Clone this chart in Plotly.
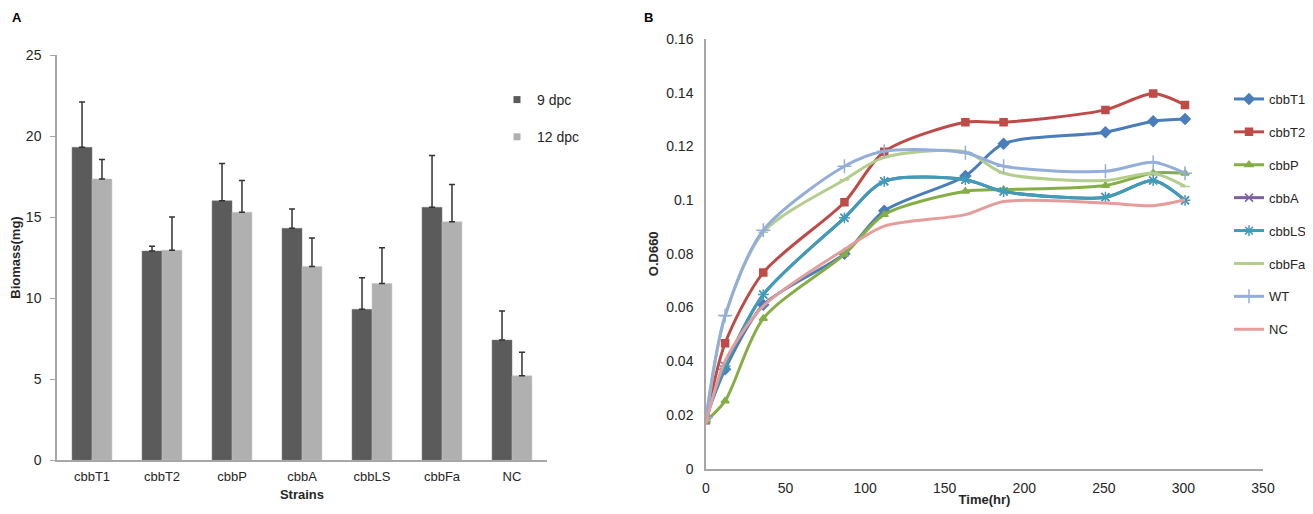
import plotly.graph_objects as go

# ---------- Panel A data ----------
strains = ["cbbT1", "cbbT2", "cbbP", "cbbA", "cbbLS", "cbbFa", "NC"]
biomass_9dpc = [19.3, 12.9, 16.0, 14.3, 9.3, 15.6, 7.4]
biomass_9dpc_err = [2.8, 0.3, 2.3, 1.2, 1.95, 3.2, 1.8]
biomass_12dpc = [17.35, 12.95, 15.3, 11.95, 10.9, 14.7, 5.2]
biomass_12dpc_err = [1.2, 2.05, 1.95, 1.75, 2.2, 2.3, 1.45]

# ---------- Panel B data ----------
time_hr = [0, 12, 36, 87, 112, 163, 187, 251, 281, 301]
od_cbbT1 = [0.019, 0.037, 0.061, 0.080, 0.096, 0.109, 0.121, 0.1253, 0.1294, 0.1302]
od_cbbT2 = [0.018, 0.0467, 0.073, 0.0992, 0.118, 0.129, 0.129, 0.1336, 0.1397, 0.1354]
od_cbbP = [0.0177, 0.0252, 0.0559, 0.0798, 0.0946, 0.1033, 0.1039, 0.1054, 0.1101, 0.110]
od_cbbA = [0.0205, 0.0382, 0.0648, 0.0934, 0.107, 0.1076, 0.1032, 0.1011, 0.1073, 0.0999]
od_cbbLS = [0.019, 0.0382, 0.0648, 0.0934, 0.107, 0.1076, 0.1032, 0.1011, 0.1073, 0.0999]
od_cbbFa = [0.018, 0.0568, 0.088, 0.1076, 0.1159, 0.118, 0.110, 0.1073, 0.110, 0.1051]
od_WT = [0.019, 0.057, 0.0888, 0.1126, 0.1182, 0.1176, 0.1126, 0.1107, 0.1141, 0.110]
od_NC = [0.0168, 0.040, 0.0605, 0.0816, 0.0903, 0.0946, 0.0995, 0.0989, 0.0979, 0.1001]

series_names = ["cbbT1", "cbbT2", "cbbP", "cbbA", "cbbLS", "cbbFa", "WT", "NC"]
series_values = [od_cbbT1, od_cbbT2, od_cbbP, od_cbbA, od_cbbLS, od_cbbFa, od_WT, od_NC]
series_colors = ["#4A7EBB", "#BE4B48", "#86AE47", "#7D60A0", "#3E9DB8", "#B2CD8C", "#94AEDA", "#E39E9C"]
series_symbols = ["diamond", "square", "triangle-up", "x-thin-open", "asterisk-open",
                  "line-ew-open", "cross-thin-open", None]
series_msize = [8, 7, 7, 8, 9, 7, 10, 0]

FONT = "Arial, Liberation Sans, sans-serif"
TXT = "#262626"
AXC = "#A6A6A6"
OFF = 8                      # page body margin in the browser
W, H = 1313 - OFF, 514 - OFF


def px(x):
    return (x - OFF) / W


def py(y):
    return 1 - (y - OFF) / H


fig = go.Figure()

dark, light = "#5B5B5B", "#B0B0B0"
fig.add_trace(go.Bar(x=strains, y=biomass_9dpc, name="9 dpc", marker_color=dark,
                     marker_line=dict(color="#7a7a7a", width=0.5),
                     error_y=dict(type="data", array=biomass_9dpc_err,
                                  arrayminus=[0] * len(strains), symmetric=False,
                                  color="#333333", thickness=1.5, width=3),
                     xaxis="x", yaxis="y", showlegend=False))
fig.add_trace(go.Bar(x=strains, y=biomass_12dpc, name="12 dpc", marker_color=light,
                     marker_line=dict(color="#c4c4c4", width=0.5),
                     error_y=dict(type="data", array=biomass_12dpc_err,
                                  arrayminus=[0] * len(strains), symmetric=False,
                                  color="#333333", thickness=1.5, width=3),
                     xaxis="x", yaxis="y", showlegend=False))
# legend swatches for panel A
for nm, c in [("9 dpc", dark), ("12 dpc", light)]:
    fig.add_trace(go.Scatter(x=[None], y=[None], mode="markers", name=nm,
                             marker=dict(symbol="square", size=7, color=c),
                             xaxis="x", yaxis="y", legend="legend", legendgroup=nm))

for nm, vals, c, sym, ms in zip(series_names, series_values, series_colors,
                                series_symbols, series_msize):
    mode = "lines+markers" if sym else "lines"
    fig.add_trace(go.Scatter(
        x=time_hr, y=vals, name=nm, mode=mode,
        line=dict(color=c, width=3, shape="spline", smoothing=0.8),
        marker=dict(symbol=sym or "circle", size=ms, color=c,
                    line=dict(color=c, width=1.5)),
        xaxis="x2", yaxis="y2", legend="legend2", legendgroup=nm))

fig.update_layout(
    width=W, height=H,
    margin=dict(l=0, r=0, t=0, b=0, autoexpand=False),
    paper_bgcolor="white", plot_bgcolor="white",
    font=dict(family=FONT, color=TXT, size=13),
    barmode="group", bargap=0.43, bargroupgap=0,
    xaxis=dict(domain=[px(57), px(547)], anchor="y", showline=True, linecolor=AXC,
               linewidth=1.5, ticks="", showgrid=False, ticklabelstandoff=4,
               tickfont=dict(size=13, color=TXT),
               title=dict(text="<b>Strains</b>", font=dict(size=13), standoff=7)),
    yaxis=dict(domain=[py(460), py(55)], anchor="x", range=[0, 25], dtick=5,
               showline=True, linecolor=AXC, linewidth=1.5, ticks="outside",
               ticklen=5, tickcolor=AXC, showgrid=False, zeroline=False,
               ticklabelstandoff=6, tickfont=dict(size=14, color=TXT),
               title=dict(text="<b>Biomass(mg)</b>", font=dict(size=13), standoff=9)),
    xaxis2=dict(domain=[px(706), px(1263)], anchor="y2", range=[0, 350], dtick=50,
                showline=True, linecolor=AXC, linewidth=1.5, ticks="", showgrid=False,
                zeroline=False, ticklabelstandoff=6, tickfont=dict(size=14, color=TXT),
                title=dict(text="<b>Time(hr)</b>", font=dict(size=13), standoff=0)),
    yaxis2=dict(domain=[py(468.6), py(39)], anchor="x2", range=[0, 0.16],
                dtick=0.02, tickformat="~g", showline=True, linecolor=AXC, linewidth=1.5,
                ticks="", showgrid=False, zeroline=False, ticklabelstandoff=8,
                tickfont=dict(size=14, color=TXT),
                title=dict(text="<b>O.D660</b>", font=dict(size=13), standoff=5)),
    legend=dict(x=px(497), y=py(84), xanchor="left", yanchor="top",
                font=dict(size=14, color=TXT), tracegroupgap=16,
                bgcolor="rgba(0,0,0,0)", itemwidth=30),
    legend2=dict(x=px(1229), y=py(84), xanchor="left", yanchor="top",
                 font=dict(size=13, color=TXT), tracegroupgap=13,
                 bgcolor="rgba(0,0,0,0)", itemwidth=30),
    annotations=[
        dict(text="<b>A</b>", x=px(10), y=py(18), xref="paper", yref="paper",
             xanchor="left", yanchor="middle", showarrow=False, font=dict(size=13, color="#000")),
        dict(text="<b>B</b>", x=px(642), y=py(18), xref="paper", yref="paper",
             xanchor="left", yanchor="middle", showarrow=False, font=dict(size=13, color="#000")),
    ],
)

fig.write_html("out.html")
